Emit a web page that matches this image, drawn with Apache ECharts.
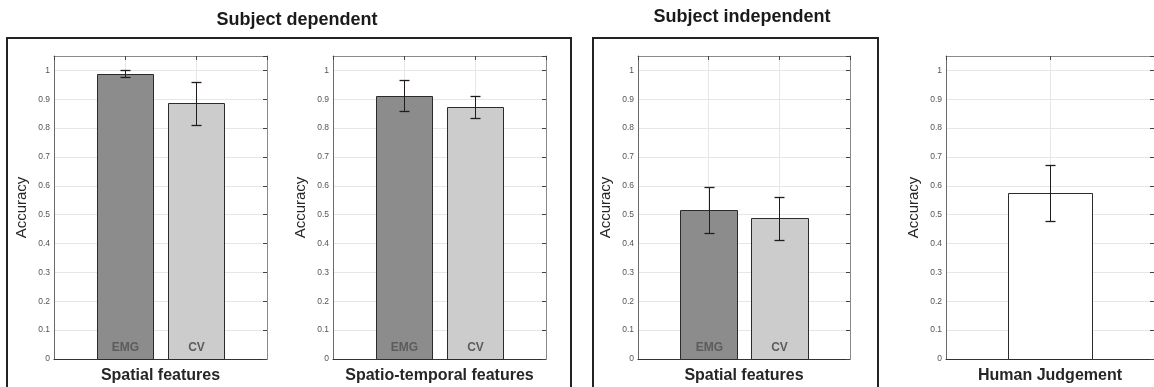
<!DOCTYPE html>
<html>
<head>
<meta charset="utf-8">
<script src="https://cdn.jsdelivr.net/npm/echarts@6/dist/echarts.min.js"></script>
<style>
html,body{margin:0;padding:0;background:#fff;}
#chart{width:1154px;height:387px;}
</style>
</head>
<body>
<div id="chart"></div>
<script>
// ---- data ----
const groupTitles = ['Subject dependent', 'Subject independent'];
const panelTitles = ['Spatial features', 'Spatio-temporal features', 'Spatial features', 'Human Judgement'];
const methodCategories = ['EMG', 'CV'];
const humanCategories = [''];
const spatialDepMean = [0.989, 0.886];
const spatialDepErr = [0.011, 0.075];
const spatioTempDepMean = [0.912, 0.874];
const spatioTempDepErr = [0.054, 0.039];
const spatialIndepMean = [0.516, 0.488];
const spatialIndepErr = [0.081, 0.075];
const humanMean = [0.576];
const humanErr = [0.097];
const yAxisName = 'Accuracy';

// ---- layout / styles ----
const panels = [
  {left: 54, width: 213, xmax: 3, cats: methodCategories, mean: spatialDepMean, err: spatialDepErr, colors: ['#8c8c8c', '#cccccc']},
  {left: 333, width: 213, xmax: 3, cats: methodCategories, mean: spatioTempDepMean, err: spatioTempDepErr, colors: ['#8c8c8c', '#cccccc']},
  {left: 638, width: 212, xmax: 3, cats: methodCategories, mean: spatialIndepMean, err: spatialIndepErr, colors: ['#8c8c8c', '#cccccc']},
  {left: 946, width: 208, xmax: 2, cats: humanCategories, mean: humanMean, err: humanErr, colors: ['#ffffff']}
];
const TOP = 56, HEIGHT = 303;
const FONT = '"Liberation Sans", Arial, Helvetica, sans-serif';

const grid = [], xAxis = [], yAxis = [], series = [];
panels.forEach((p, i) => {
  grid.push({left: p.left, top: TOP, width: p.width, height: HEIGHT, containLabel: false, outerBoundsMode: 'none'});
  // bottom x
  xAxis.push({
    type: 'value', gridIndex: i, min: 0, max: p.xmax, interval: 1, position: 'bottom',
    name: panelTitles[i], nameLocation: 'middle', nameGap: 9,
    nameTextStyle: {fontFamily: FONT, fontWeight: 'bold', fontSize: 16, color: '#262626', verticalAlign: 'top'},
    axisLine: {show: true, onZero: false, lineStyle: {color: '#333', width: 1}},
    axisTick: {show: false}, axisLabel: {show: false},
    splitLine: {show: true, lineStyle: {color: '#e6e6e6', width: 1}}
  });
  // top x (box)
  xAxis.push({
    type: 'value', gridIndex: i, min: 0, max: p.xmax, interval: 1, position: 'top',
    axisLine: {show: true, onZero: false, lineStyle: {color: '#8a8a8a', width: 1}},
    axisTick: {show: true, inside: true, length: 4, lineStyle: {color: '#444'}},
    axisLabel: {show: false}, splitLine: {show: false}
  });
  yAxis.push({
    type: 'value', gridIndex: i, min: 0, max: 1.05, interval: 0.1, position: 'left',
    name: yAxisName, nameLocation: 'middle', nameGap: 25, nameRotate: 90,
    nameTextStyle: {fontFamily: FONT, fontSize: 15, color: '#262626'},
    axisLine: {show: true, onZero: false, lineStyle: {color: '#6a6a6a', width: 1}},
    axisTick: {show: false},
    axisLabel: {show: true, fontFamily: FONT, fontSize: 8.5, color: '#555', margin: 4,
      formatter: v => v > 1.001 ? '' : String(+v.toFixed(1))},
    splitLine: {show: true, lineStyle: {color: '#e6e6e6', width: 1}}
  });
  yAxis.push({
    type: 'value', gridIndex: i, min: 0, max: 1.05, interval: 0.1, position: 'right',
    axisLine: {show: true, onZero: false, lineStyle: {color: '#8a8a8a', width: 1}},
    axisTick: {show: true, inside: true, length: 4, lineStyle: {color: '#444'}},
    axisLabel: {show: false}, splitLine: {show: false}
  });
  const data = p.cats.map((c, k) => [k + 1, p.mean[k], p.err[k], k, c]);
  series.push({
    type: 'custom', xAxisIndex: 2 * i, yAxisIndex: 2 * i, z: 5,
    data: data,
    renderItem: (params, api) => {
      const x = api.value(0), m = api.value(1), e = api.value(2), k = api.value(3);
      const label = p.cats[k];
      const b0 = api.coord([x - 0.4, 0]);
      const b1 = api.coord([x + 0.4, m]);
      const xl = Math.round(b0[0]) + 0.5, xr = Math.round(b1[0]) + 0.5;
      const yb = Math.round(b0[1]) + 0.5, yt = Math.round(b1[1]) + 0.5;
      const c = api.coord([x, m]);
      const cx = Math.round(c[0]) + 0.5;
      const et = api.coord([x, m + e])[1], eb = api.coord([x, m - e])[1];
      const ets = Math.round(et) + 0.5, ebs = Math.round(eb) + 0.5;
      const children = [
        {type: 'rect', shape: {x: xl, y: yt, width: xr - xl, height: yb - yt},
         style: {fill: p.colors[k], stroke: '#2b2b2b', lineWidth: 1}},
        {type: 'line', shape: {x1: cx, y1: ets, x2: cx, y2: ebs}, style: {stroke: '#231c1c', lineWidth: 1}},
        {type: 'line', shape: {x1: cx - 5, y1: ets, x2: cx + 5, y2: ets}, style: {stroke: '#231c1c', lineWidth: 1.3}},
        {type: 'line', shape: {x1: cx - 5, y1: ebs, x2: cx + 5, y2: ebs}, style: {stroke: '#231c1c', lineWidth: 1.3}}
      ];
      if (label) {
        children.push({type: 'text', x: cx, y: yb - 12,
          style: {text: label, fill: '#5c5c5c', font: 'bold 12px ' + FONT, align: 'center', verticalAlign: 'middle'}});
      }
      return {type: 'group', children: children};
    }
  });
});

const chart = echarts.init(document.getElementById('chart'), null, {renderer: 'canvas'});
chart.setOption({
  animation: false,
  backgroundColor: '#ffffff',
  grid, xAxis, yAxis, series,
  graphic: [
    {type: 'rect', shape: {x: 7, y: 38, width: 564, height: 360}, style: {fill: 'none', stroke: '#222', lineWidth: 2}, z: 10},
    {type: 'rect', shape: {x: 593, y: 38, width: 285, height: 360}, style: {fill: 'none', stroke: '#222', lineWidth: 2}, z: 10},
    {type: 'text', x: 297, y: 20, style: {text: groupTitles[0], font: 'bold 18px ' + FONT, fill: '#1a1a1a', align: 'center', verticalAlign: 'middle'}},
    {type: 'text', x: 742, y: 17, style: {text: groupTitles[1], font: 'bold 18px ' + FONT, fill: '#1a1a1a', align: 'center', verticalAlign: 'middle'}}
  ]
});
</script>
</body>
</html>
